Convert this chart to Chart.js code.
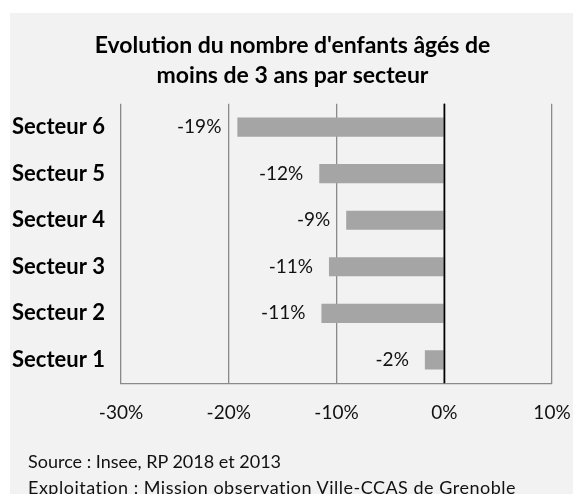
<!DOCTYPE html>
<html>
<head>
<meta charset="utf-8">
<script src="https://cdn.jsdelivr.net/npm/chart.js@4.4.1/dist/chart.umd.min.js"></script>
<style>
  body { margin: 0; background: #fff; font-family: Lato, sans-serif; }
  #wrap { position: absolute; left: 10px; top: 13px; width: 563px; height: 481px; background: #f2f2f2; overflow: hidden; }
  #box { position: absolute; left: 0; top: 0; width: 563px; height: 437px; }
  #source { position: absolute; left: 18px; top: 435px; font-size: 18px; line-height: 26px; color: #111; white-space: nowrap; }
  #source .second { letter-spacing: 0.5px; }
</style>
</head>
<body>
<div id="wrap">
  <div id="box"><canvas id="chart"></canvas></div>
  <div id="source"><div>Source : Insee, RP 2018 et 2013</div><div class="second">Exploitation : Mission observation Ville-CCAS de Grenoble</div></div>
</div>
<script>
const titleLines = ["Evolution du nombre d'enfants âgés de", 'moins de 3 ans par secteur']
const sectors = ['Secteur 6', 'Secteur 5', 'Secteur 4', 'Secteur 3', 'Secteur 2', 'Secteur 1']
const evolution = [-19.2, -11.6, -9.1, -10.7, -11.4, -1.8]
const xTicks = [-30, -20, -10, 0, 10]

// labels to the left of each bar, and the 0% line redrawn above the bars
const barLabels = {
  id: 'bar-labels',
  afterDatasetsDraw(chart) {
    const { ctx, scales } = chart
    const meta = chart.getDatasetMeta(0)
    ctx.save()
    ctx.font = '19px Lato'
    ctx.fillStyle = '#111'
    ctx.textAlign = 'right'
    ctx.textBaseline = 'middle'
    meta.data.forEach((bar, i) => {
      const left = Math.min(bar.x, bar.base)
      ctx.fillText(Math.round(evolution[i]) + '%', left - 16, bar.y)
    })
    const x0 = scales.x.getPixelForValue(0)
    ctx.strokeStyle = '#000'
    ctx.lineWidth = 1.5
    ctx.beginPath()
    ctx.moveTo(x0, chart.chartArea.top)
    ctx.lineTo(x0, chart.chartArea.bottom)
    ctx.stroke()
    ctx.restore()
  }
}

new Chart(document.getElementById('chart'), {
  type: 'bar',
  data: {
    labels: sectors,
    datasets: [{
      data: evolution,
      backgroundColor: '#a5a5a5',
      categoryPercentage: 1,
      barPercentage: 0.41
    }]
  },
  options: {
    indexAxis: 'y',
    maintainAspectRatio: false,
    animation: false,
    layout: { padding: { left: 2, right: 0, bottom: 8 } },
    plugins: {
      legend: { display: false },
      tooltip: { enabled: false },
      title: {
        display: true,
        text: titleLines,
        color: '#000',
        font: { family: 'Lato', size: 23, weight: 'bold', lineHeight: 1.3 },
        padding: { top: 18, bottom: 13 }
      }
    },
    scales: {
      x: {
        min: -30,
        max: 10,
        afterBuildTicks(scale) { scale.ticks = xTicks.map(v => ({ value: v })) },
        afterFit(scale) { scale.paddingRight = 21 },
        grid: {
          color: c => (c.tick && c.tick.value === 0 ? '#000' : '#8a8a8a'),
          lineWidth: 1.3,
          drawTicks: false
        },
        border: { color: '#8a8a8a', width: 1.3 },
        ticks: {
          padding: 18,
          color: '#111',
          font: { family: 'Lato', size: 19 },
          callback: v => v + '%'
        }
      },
      y: {
        grid: { display: false },
        border: { display: false },
        afterFit(scale) { scale.width = 109 },
        ticks: {
          crossAlign: 'far',
          color: '#000',
          font: { family: 'Lato', size: 22, weight: 'bold' }
        }
      }
    }
  },
  plugins: [barLabels]
})
</script>
</body>
</html>
